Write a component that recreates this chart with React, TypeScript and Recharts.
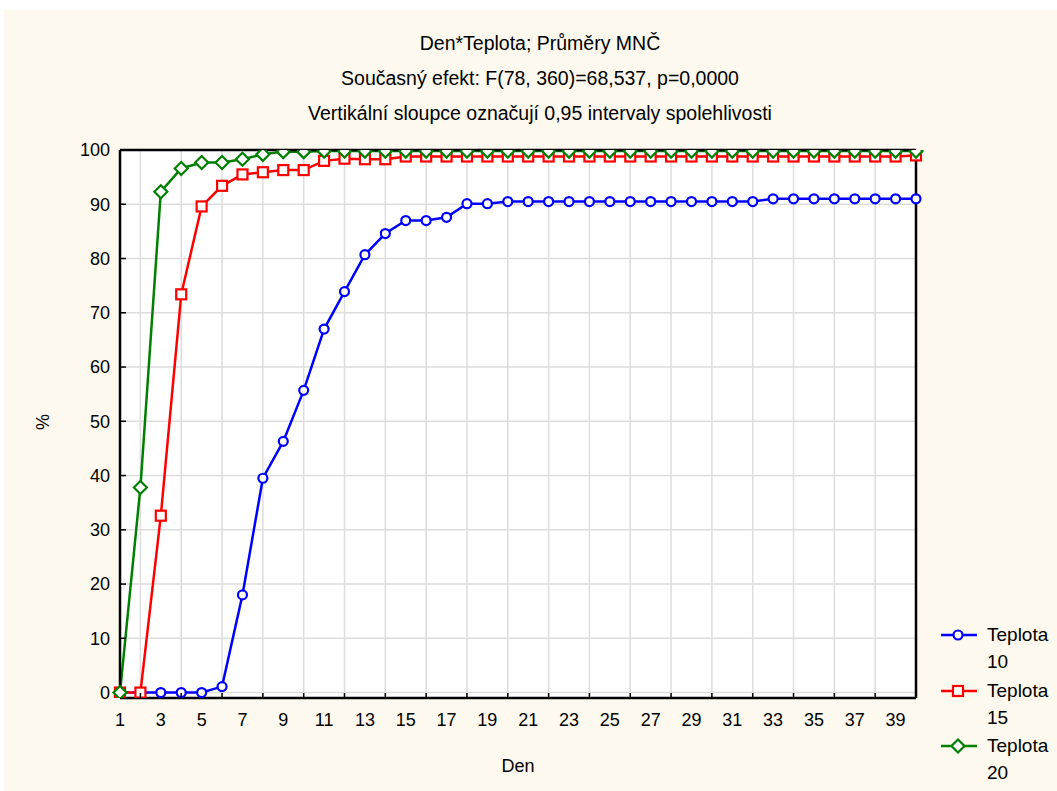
import React from 'react'
import { CartesianGrid, Line, LineChart, XAxis, YAxis } from 'recharts'

const days = [
  1, 2, 3, 4, 5, 6, 7, 8, 9, 10, 11, 12, 13, 14, 15, 16, 17, 18, 19, 20,
  21, 22, 23, 24, 25, 26, 27, 28, 29, 30, 31, 32, 33, 34, 35, 36, 37, 38, 39, 40,
]

const teplota10 = [
  0, 0, 0, 0, 0, 1.1, 18, 39.5, 46.3, 55.7, 67, 73.9, 80.7, 84.6, 87, 87, 87.6, 90.1, 90.1, 90.5,
  90.5, 90.5, 90.5, 90.5, 90.5, 90.5, 90.5, 90.5, 90.5, 90.5, 90.5, 90.5, 91, 91, 91, 91, 91, 91, 91, 91,
]

const teplota15 = [
  0, 0, 32.6, 73.4, 89.6, 93.4, 95.5, 95.9, 96.3, 96.3, 98, 98.4, 98.3, 98.3, 98.8, 98.8, 98.8, 98.8, 98.8, 98.8,
  98.8, 98.8, 98.8, 98.8, 98.8, 98.8, 98.8, 98.8, 98.8, 98.8, 98.8, 98.8, 98.8, 98.8, 98.8, 98.8, 98.8, 98.8, 98.8, 99,
]

const teplota20 = [
  0, 37.8, 92.3, 96.6, 97.7, 97.7, 98.3, 99.2, 99.7, 99.7, 99.8, 99.8, 99.8, 99.8, 99.8, 99.8, 99.8, 99.8, 99.8, 99.8,
  99.8, 99.8, 99.8, 99.8, 99.8, 99.8, 99.8, 99.8, 99.8, 99.8, 99.8, 99.8, 99.8, 99.8, 99.8, 99.8, 99.8, 99.8, 99.8, 99.8,
]

const gridDays = [2, 4, 6, 8, 10, 12, 14, 16, 18, 20, 22, 24, 26, 28, 30, 32, 34, 36, 38]
const yTicks = [0, 10, 20, 30, 40, 50, 60, 70, 80, 90, 100]
const yDomain = [-1, 100]

const titleLines = [
  'Den*Teplota; Průměry MNČ',
  'Současný efekt: F(78, 360)=68,537, p=0,0000',
  'Vertikální sloupce označují 0,95 intervaly spolehlivosti',
]

const seriesNames = ['Teplota 10', 'Teplota 15', 'Teplota 20']

const BLUE = '#0000ff'
const RED = '#ff0000'
const GREEN = '#008000'
const FONT = '"Liberation Sans", Arial, sans-serif'

const chartData = days.map((den, i) => ({
  den,
  t10: teplota10[i],
  t15: teplota15[i],
  t20: teplota20[i],
}))

// marker shapes, shared by the lines and the legend
const circleMark = (cx: number, cy: number) => (
  <circle cx={cx} cy={cy} r={4.5} fill="#fff" stroke={BLUE} strokeWidth={2.2} />
)
const squareMark = (cx: number, cy: number) => (
  <rect x={cx - 5} y={cy - 5} width={10} height={10} fill="#fff" stroke={RED} strokeWidth={2.2} />
)
const diamondMark = (cx: number, cy: number) => (
  <polygon
    points={`${cx},${cy - 6.5} ${cx + 6.5},${cy} ${cx},${cy + 6.5} ${cx - 6.5},${cy}`}
    fill="#fff"
    stroke={GREEN}
    strokeWidth={2.2}
  />
)

const makeDot = (mark: (cx: number, cy: number) => React.ReactElement) => (props: any) => {
  const { cx, cy, index } = props
  if (cx == null || cy == null) return <g key={index} />
  return <g key={index}>{mark(cx, cy)}</g>
}

// odd days get a label, even days an inward tick mark
const BottomTick = (props: any) => {
  const { x, y, payload } = props
  const d = payload.value
  if (d % 2 === 0) {
    return <line x1={x} x2={x} y1={y} y2={y - 5} stroke="#000" strokeWidth={1.5} />
  }
  return (
    <text x={x} y={y + 28} textAnchor="middle" fontSize={18} fill="#000" fontFamily={FONT}>
      {d}
    </text>
  )
}

const legendMarks = [circleMark, squareMark, diamondMark]
const legendColors = [BLUE, RED, GREEN]

export default function App() {
  return (
    <div
      style={{
        position: 'absolute',
        left: 0,
        top: 0,
        width: 1057,
        height: 791,
        background: '#fff',
        overflow: 'hidden',
        fontFamily: FONT,
      }}
    >
      <div style={{ position: 'absolute', left: 4, top: 10, right: 0, bottom: 0, background: '#fdf9ee' }} />

      {titleLines.map((t, i) => (
        <div
          key={i}
          style={{
            position: 'absolute',
            left: 0,
            width: 1080,
            top: 32 + i * 35,
            textAlign: 'center',
            fontSize: 19.5,
            lineHeight: '22px',
            color: '#000',
            whiteSpace: 'nowrap',
          }}
        >
          {t}
        </div>
      ))}

      <div style={{ position: 'absolute', left: 0, top: 0 }}>
        <LineChart width={1057} height={791} data={chartData} margin={{ top: 149, right: 140, bottom: 63, left: 60 }}>
          <CartesianGrid
            verticalValues={gridDays}
            stroke="#dddddd"
            strokeWidth={1.5}
            fill="#ffffff"
            fillOpacity={1}
          />
          <XAxis
            dataKey="den"
            type="number"
            domain={[1, 40]}
            ticks={days}
            interval={0}
            height={30}
            tickSize={0}
            tickMargin={0}
            tickLine={false}
            tick={<BottomTick />}
            axisLine={{ stroke: '#000', strokeWidth: 2.5 }}
          />
          <XAxis
            xAxisId="top"
            orientation="top"
            type="number"
            domain={[1, 40]}
            allowDataOverflow
            ticks={days}
            interval={0}
            height={1}
            tick={false}
            tickSize={-5}
            tickLine={{ stroke: '#000', strokeWidth: 1.5 }}
            axisLine={{ stroke: '#000', strokeWidth: 2.5 }}
          />
          <YAxis
            type="number"
            domain={yDomain}
            allowDataOverflow
            ticks={yTicks}
            interval={0}
            width={60}
            tickSize={-6}
            tickMargin={16}
            tick={{ fill: '#000', fontSize: 18, fontFamily: FONT }}
            tickLine={{ stroke: '#000', strokeWidth: 1.5 }}
            axisLine={{ stroke: '#000', strokeWidth: 2.5 }}
          />
          <YAxis
            yAxisId="right"
            orientation="right"
            type="number"
            domain={yDomain}
            allowDataOverflow
            ticks={yTicks}
            interval={0}
            width={1}
            tick={false}
            tickSize={-6}
            tickLine={{ stroke: '#000', strokeWidth: 1.5 }}
            axisLine={{ stroke: '#000', strokeWidth: 2.5 }}
          />
          <Line
            dataKey="t10"
            name={seriesNames[0]}
            stroke={BLUE}
            strokeWidth={2.5}
            dot={makeDot(circleMark)}
            activeDot={false}
            isAnimationActive={false}
          />
          <Line
            dataKey="t15"
            name={seriesNames[1]}
            stroke={RED}
            strokeWidth={2.5}
            dot={makeDot(squareMark)}
            activeDot={false}
            isAnimationActive={false}
          />
          <Line
            dataKey="t20"
            name={seriesNames[2]}
            stroke={GREEN}
            strokeWidth={2.5}
            dot={makeDot(diamondMark)}
            activeDot={false}
            isAnimationActive={false}
          />
        </LineChart>
      </div>

      <div
        style={{
          position: 'absolute',
          left: 43,
          top: 422,
          transform: 'translate(-50%, -50%) rotate(-90deg)',
          fontSize: 18,
          color: '#000',
        }}
      >
        %
      </div>
      <div
        style={{
          position: 'absolute',
          left: 418,
          width: 200,
          top: 755,
          textAlign: 'center',
          fontSize: 18,
          lineHeight: '22px',
          color: '#000',
        }}
      >
        Den
      </div>

      <div style={{ position: 'absolute', left: 940, top: 621 }}>
        {seriesNames.map((name, i) => {
          const [word, num] = name.split(' ')
          return (
            <div key={name} style={{ display: 'flex', alignItems: 'flex-start', height: 55.5 }}>
              <svg width={38} height={28} style={{ display: 'block' }}>
                <line x1={1} x2={37} y1={14} y2={14} stroke={legendColors[i]} strokeWidth={2.5} />
                {legendMarks[i](18, 14)}
              </svg>
              <div style={{ marginLeft: 9, fontSize: 19, lineHeight: '27px', color: '#000' }}>
                {word}
                <br />
                {num}
              </div>
            </div>
          )
        })}
      </div>
    </div>
  )
}
